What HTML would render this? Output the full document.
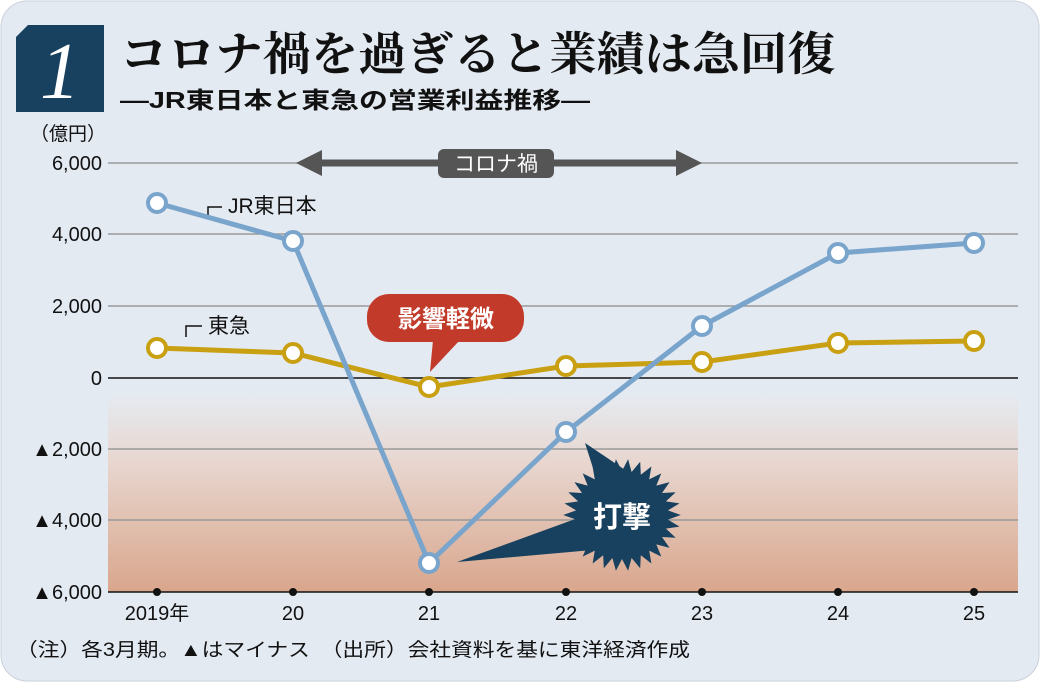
<!DOCTYPE html>
<html><head><meta charset="utf-8"><style>
html,body{margin:0;padding:0;background:#fff}
svg{display:block}
</style></head><body>
<svg id="s" width="1040" height="682" viewBox="0 0 1040 682" xmlns="http://www.w3.org/2000/svg" font-family="Liberation Sans, Noto Sans CJK JP, sans-serif">
<defs>
<linearGradient id="g" x1="0" y1="0" x2="0" y2="1">
<stop offset="0" stop-color="#e5ebf2"/>
<stop offset="0.35" stop-color="#e8d6cf"/>
<stop offset="1" stop-color="#d9a68c"/>
</linearGradient>
</defs>
<rect x="1" y="1" width="1038" height="680" rx="26" fill="#e4eaf2" stroke="#c9d1db"/>
<rect x="108" y="393" width="910" height="199" fill="url(#g)"/>
<polygon points="28,25 104,25 104,112 16,112 16,37" fill="#17415f"/>
<text x="60" y="98" style="font-family:'Liberation Serif',serif;font-style:italic" font-size="80" fill="#fff" text-anchor="middle">1</text>
<text x="120" y="70" style="font-family:'Liberation Serif','Noto Serif CJK JP','Noto Serif CJK SC',serif;font-weight:bold" font-size="46" textLength="715" lengthAdjust="spacingAndGlyphs" fill="#111">コロナ禍を過ぎると業績は急回復</text>
<text x="120" y="108" font-size="23" font-weight="bold" textLength="470" lengthAdjust="spacingAndGlyphs" fill="#111">―JR東日本と東急の営業利益推移―</text>
<text x="68" y="140" font-size="19" fill="#111" text-anchor="middle">（億円）</text>
<g stroke="#999" stroke-width="1.5">
<line x1="108" y1="163" x2="1018" y2="163"/><line x1="108" y1="234" x2="1018" y2="234"/>
<line x1="108" y1="306" x2="1018" y2="306"/><line x1="108" y1="449" x2="1018" y2="449"/>
<line x1="108" y1="520" x2="1018" y2="520"/>
</g>
<line x1="108" y1="378" x2="1018" y2="378" stroke="#111" stroke-width="1.5"/>
<line x1="108" y1="592" x2="1018" y2="592" stroke="#111" stroke-width="1.5"/>
<g font-size="20" fill="#111" text-anchor="end">
<text x="102" y="170">6,000</text><text x="102" y="241">4,000</text><text x="102" y="313">2,000</text>
<text x="102" y="385">0</text><text x="102" y="456">▲2,000</text><text x="102" y="527">▲4,000</text><text x="102" y="599">▲6,000</text>
</g>
<g fill="#111"><circle cx="157" cy="592" r="4"/><circle cx="293" cy="592" r="4"/><circle cx="429" cy="592" r="4"/><circle cx="566" cy="592" r="4"/><circle cx="702" cy="592" r="4"/><circle cx="838" cy="592" r="4"/><circle cx="974" cy="592" r="4"/></g>
<g font-size="20" fill="#111" text-anchor="middle">
<text x="157" y="620">2019年</text><text x="293" y="620">20</text><text x="429" y="620">21</text><text x="566" y="620">22</text><text x="702" y="620">23</text><text x="838" y="620">24</text><text x="974" y="620">25</text>
</g>
<text x="16" y="656" font-size="19" fill="#111" textLength="674" lengthAdjust="spacingAndGlyphs">（注）各3月期。▲はマイナス　（出所）会社資料を基に東洋経済作成</text>
<line x1="312" y1="163" x2="684" y2="163" stroke="#555" stroke-width="7"/>
<polygon points="296,163 322,150 322,176" fill="#555"/><polygon points="702,163 676,150 676,176" fill="#555"/>
<rect x="438" y="149" width="116" height="29" rx="6" fill="#555"/>
<text x="496" y="171" font-size="21" fill="#fff" text-anchor="middle">コロナ禍</text>
<polyline points="208,217 208,207 222,207" fill="none" stroke="#111" stroke-width="1.5"/>
<text x="228" y="213" font-size="21" fill="#111">JR東日本</text>
<polyline points="186,337 186,326 202,326" fill="none" stroke="#111" stroke-width="1.5"/>
<text x="208" y="333" font-size="21" fill="#111">東急</text>
<rect x="367" y="294" width="157" height="48" rx="22" fill="#c23b2a"/>
<polygon points="433,340 460,340 430,372" fill="#c23b2a"/>
<text x="446" y="327" font-size="24" font-weight="bold" fill="#fff" text-anchor="middle">影響軽微</text>
<polygon id="burst" fill="#17415f"/>
<polygon points="585,443 600,490 640,480" fill="#17415f"/>
<polygon points="457,562 600,510 615,548" fill="#17415f"/>
<text x="622" y="527" font-size="29" font-weight="bold" fill="#fff" text-anchor="middle">打撃</text>
<polyline points="157,348 293,353 429,387 566,366 702,362 838,343 974,341" fill="none" stroke="#c9a012" stroke-width="5"/>
<polyline points="157,203 293,241 429,563 566,432 702,326 838,253 974,243" fill="none" stroke="#79a4cc" stroke-width="5"/>
<g fill="#fff" stroke="#c9a012" stroke-width="4">
<circle cx="157" cy="348" r="9"/><circle cx="293" cy="353" r="9"/><circle cx="429" cy="387" r="9"/><circle cx="566" cy="366" r="9"/><circle cx="702" cy="362" r="9"/><circle cx="838" cy="343" r="9"/><circle cx="974" cy="341" r="9"/>
</g>
<g fill="#fff" stroke="#79a4cc" stroke-width="4">
<circle cx="157" cy="203" r="9"/><circle cx="293" cy="241" r="9"/><circle cx="429" cy="563" r="9"/><circle cx="566" cy="432" r="9"/><circle cx="702" cy="326" r="9"/><circle cx="838" cy="253" r="9"/><circle cx="974" cy="243" r="9"/>
</g>
</svg>
<script>
var p=[],n=30,cx=622,cy=515;
for(var i=0;i<n*2;i++){var a=Math.PI*i/n,r=(i%2?44:56);p.push((cx+r*Math.cos(a)*1.05).toFixed(1)+','+(cy+r*Math.sin(a)).toFixed(1));}
document.getElementById('burst').setAttribute('points',p.join(' '));
</script>
</body></html>
